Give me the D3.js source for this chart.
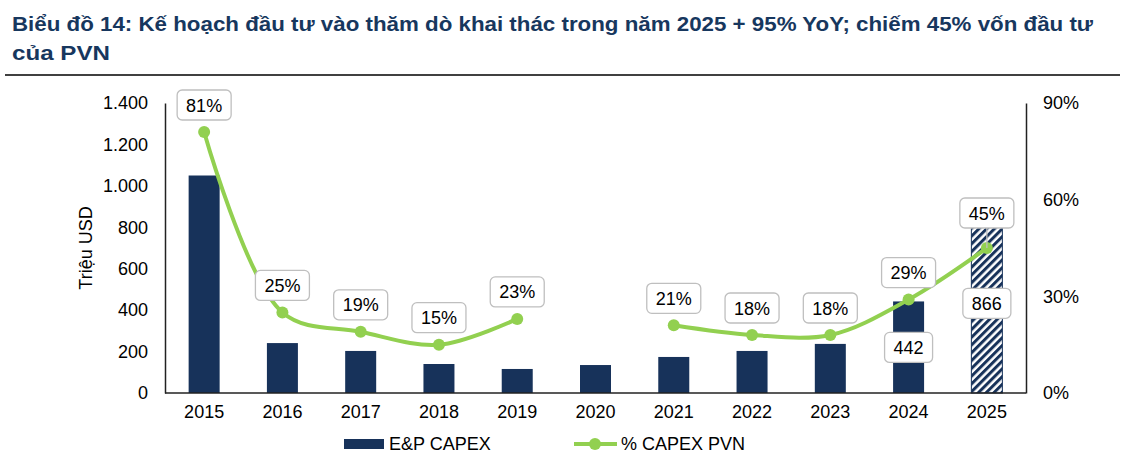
<!DOCTYPE html>
<html>
<head>
<meta charset="utf-8">
<script src="https://cdn.jsdelivr.net/npm/d3@7"></script>
<style>
  body { margin: 0; background: #fff; }
  svg text { font-family: "Liberation Sans", Arial, sans-serif; }
</style>
</head>
<body>
<svg width="1125" height="462"></svg>
<script>
// data
var years = ["2015", "2016", "2017", "2018", "2019", "2020", "2021", "2022", "2023", "2024", "2025"];
var capex = [1050, 241, 203, 140, 116, 135, 174, 203, 237, 442, 800];
var capexLabels = [null, null, null, null, null, null, null, null, null, "442", "866"];
var pctPvn = [81, 25, 19, 15, 23, null, 21, 18, 18, 29, 45];
var leftTicks = [0, 200, 400, 600, 800, 1000, 1200, 1400];
var rightTicks = [0, 30, 60, 90];

var svg = d3.select("svg");
var fs = 18;

// title
svg.append("text").attr("x", 12).attr("y", 31)
  .attr("font-size", 19.5).attr("font-weight", "bold").attr("fill", "#17375e")
  .attr("textLength", 1081).attr("lengthAdjust", "spacingAndGlyphs")
  .text("Biểu đồ 14: Kế hoạch đầu tư vào thăm dò khai thác trong năm 2025 + 95% YoY; chiếm 45% vốn đầu tư");
svg.append("text").attr("x", 12).attr("y", 60)
  .attr("font-size", 19.5).attr("font-weight", "bold").attr("fill", "#17375e")
  .attr("textLength", 98).attr("lengthAdjust", "spacingAndGlyphs")
  .text("của PVN");
svg.append("line").attr("x1", 5).attr("x2", 1120).attr("y1", 75).attr("y2", 75)
  .attr("stroke", "#000").attr("stroke-width", 1.5);

var plotL = 165, plotR = 1026, plotT = 103, plotB = 393;

var x = d3.scaleBand().domain(years).range([plotL, plotR]).padding(0);
var y = d3.scaleLinear().domain([0, 1400]).range([plotB, plotT]);
var y2 = d3.scaleLinear().domain([0, 90]).range([plotB, plotT]);
var cx = d => x(d) + x.bandwidth() / 2;
var barW = 31;

// hatch pattern for 2025 plan
var defs = svg.append("defs");
var pat = defs.append("pattern").attr("id", "hatch")
  .attr("patternUnits", "userSpaceOnUse").attr("width", 5.5).attr("height", 5.5)
  .attr("patternTransform", "rotate(45)");
pat.append("rect").attr("width", 5.5).attr("height", 5.5).attr("fill", "#fff");
pat.append("rect").attr("width", 3).attr("height", 5.5).attr("fill", "#17325a");

// bars
svg.append("g").selectAll("rect")
  .data(years)
  .enter()
  .append("rect")
  .attr("x", d => cx(d) - barW / 2)
  .attr("width", barW)
  .attr("y", (d, i) => y(capex[i]))
  .attr("height", (d, i) => plotB - y(capex[i]))
  .attr("fill", (d, i) => i == years.length - 1 ? "url(#hatch)" : "#17325a")
  .attr("stroke", (d, i) => i == years.length - 1 ? "#17325a" : "none")
  .attr("stroke-width", 1);

// axes
var leftAxis = d3.axisLeft(y).tickValues(leftTicks).tickSize(0).tickPadding(17)
  .tickFormat(d => d3.format(",")(d).replace(/,/g, "."));
var gl = svg.append("g").attr("transform", `translate(${plotL},0)`).call(leftAxis);
var rightAxis = d3.axisRight(y2).tickValues(rightTicks).tickSize(0).tickPadding(17)
  .tickFormat(d => d + "%");
var gr = svg.append("g").attr("transform", `translate(${plotR},0)`).call(rightAxis);
var bottomAxis = d3.axisBottom(x).tickSize(0).tickPadding(12);
var gb = svg.append("g").attr("transform", `translate(0,${plotB})`).call(bottomAxis);
[gl, gr, gb].forEach(function(g) {
  g.select(".domain").attr("stroke", "#222").attr("stroke-width", 1.5);
  g.selectAll("text").attr("font-size", fs).attr("fill", "#000")
    .attr("font-family", "Liberation Sans, Arial, sans-serif");
});
gb.select(".domain").attr("d", `M${plotL},0H${plotR}`);

// axis title
svg.append("text").attr("transform", "translate(92,248) rotate(-90)")
  .attr("text-anchor", "middle").attr("font-size", fs).text("Triệu USD");

// line
var pts = years.map((d, i) => ({ year: d, v: pctPvn[i] }));
var line = d3.line()
  .defined(d => d.v != null)
  .x(d => cx(d.year))
  .y(d => y2(d.v))
  .curve(d3.curveCatmullRom.alpha(0.5));
svg.append("path").datum(pts).attr("d", line)
  .attr("fill", "none").attr("stroke", "#92d050").attr("stroke-width", 4);
svg.append("g").selectAll("circle")
  .data(pts.filter(d => d.v != null))
  .enter()
  .append("circle")
  .attr("cx", d => cx(d.year)).attr("cy", d => y2(d.v)).attr("r", 6)
  .attr("fill", "#92d050");

function labelBox(g, xc, yc, w, txt) {
  g.append("rect").attr("x", xc - w / 2).attr("y", yc - 15).attr("width", w).attr("height", 30)
    .attr("rx", 5).attr("fill", "#fff").attr("stroke", "#bfbfbf").attr("stroke-width", 1.3);
  g.append("text").attr("x", xc).attr("y", yc + 6.5).attr("text-anchor", "middle")
    .attr("font-size", fs).attr("fill", "#000").text(txt);
}

// percent labels
var labG = svg.append("g");
pts.forEach(function(d, i) {
  if (d.v == null) return;
  var off = i == years.length - 1 ? 35 : 27;
  if (i == years.length - 1) {
    labG.append("line").attr("x1", cx(d.year)).attr("x2", cx(d.year))
      .attr("y1", y2(d.v) - off + 15).attr("y2", y2(d.v))
      .attr("stroke", "#bfbfbf").attr("stroke-width", 1.3);
  }
  labelBox(labG, cx(d.year), y2(d.v) - off, 54, d.v + "%");
});

// bar value labels
years.forEach(function(d, i) {
  if (!capexLabels[i]) return;
  var yc = i == years.length - 1 ? y(capex[i]) + 76 : y(capex[i]) + 46;
  labelBox(labG, cx(d), yc, 48, capexLabels[i]);
});

// legend
var lg = svg.append("g");
lg.append("rect").attr("x", 344).attr("y", 439).attr("width", 40).attr("height", 10).attr("fill", "#17325a");
lg.append("text").attr("x", 389).attr("y", 450).attr("font-size", fs).text("E&P CAPEX");
lg.append("line").attr("x1", 574).attr("x2", 617).attr("y1", 444).attr("y2", 444)
  .attr("stroke", "#92d050").attr("stroke-width", 4);
lg.append("circle").attr("cx", 595).attr("cy", 444).attr("r", 6).attr("fill", "#92d050");
lg.append("text").attr("x", 621).attr("y", 450).attr("font-size", fs).text("% CAPEX PVN");
</script>
</body>
</html>
